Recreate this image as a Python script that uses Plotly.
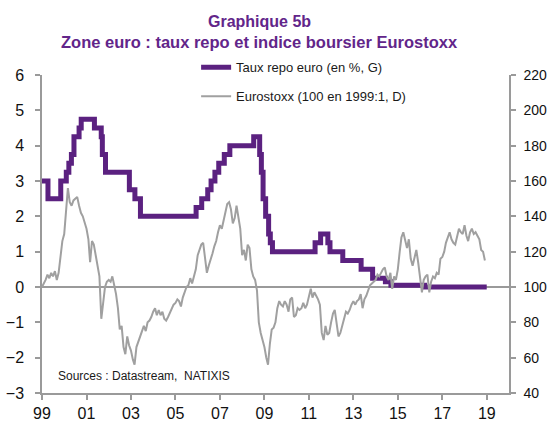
import plotly.graph_objects as go
import pandas as pd

# ---------------- data ----------------
repo_dates = ["1999-01-01", "1999-04-09", "1999-11-05", "2000-02-04", "2000-03-17", "2000-04-28",
              "2000-06-09", "2000-09-01", "2000-10-06", "2001-05-11", "2001-08-31", "2001-09-18",
              "2001-11-09", "2002-12-06", "2003-03-07", "2003-06-06", "2005-12-06", "2006-03-08",
              "2006-06-15", "2006-08-09", "2006-10-11", "2006-12-13", "2007-03-14", "2007-06-13",
              "2008-07-09", "2008-10-15", "2008-11-12", "2008-12-10", "2009-01-21", "2009-03-11",
              "2009-04-08", "2009-05-13", "2011-04-13", "2011-07-13", "2011-11-09", "2011-12-14",
              "2012-07-11", "2013-05-08", "2013-11-13", "2014-06-11", "2014-09-10", "2016-03-16",
              "2018-12-31"]
repo_rate = [3.00, 2.50, 3.00, 3.25, 3.50, 3.75,
             4.25, 4.50, 4.75, 4.50, 4.25, 3.75,
             3.25, 2.75, 2.50, 2.00, 2.25, 2.50,
             2.75, 3.00, 3.25, 3.50, 3.75, 4.00,
             4.25, 3.75, 3.25, 2.50, 2.00, 1.50,
             1.25, 1.00, 1.25, 1.50, 1.25, 1.00,
             0.75, 0.50, 0.25, 0.15, 0.05, 0.00,
             0.00]

# Eurostoxx, monthly, 100 = 1999:1
stoxx_1999 = [100, 102, 104, 107, 105, 108, 106, 109, 104, 108, 116, 126]
stoxx_2000 = [130, 146, 156, 148, 146, 149, 150, 151, 146, 142, 140, 136]
stoxx_2001 = [133, 127, 114, 126, 124, 118, 113, 106, 82, 92, 100, 103]
stoxx_2002 = [104, 103, 106, 101, 96, 88, 76, 78, 66, 62, 72, 67]
stoxx_2003 = [64, 59, 56, 66, 69, 73, 76, 78, 75, 80, 81, 83]
stoxx_2004 = [86, 88, 84, 87, 84, 86, 82, 81, 83, 85, 88, 90]
stoxx_2005 = [91, 93, 92, 89, 94, 97, 100, 101, 105, 102, 106, 110]
stoxx_2006 = [118, 121, 124, 125, 116, 108, 112, 115, 119, 123, 126, 131]
stoxx_2007 = [135, 133, 137, 143, 147, 148, 144, 136, 139, 146, 138, 133]
stoxx_2008 = [118, 121, 115, 124, 122, 110, 106, 104, 98, 80, 74, 70]
stoxx_2009 = [66, 60, 56, 68, 76, 77, 80, 88, 92, 90, 89, 92]
stoxx_2010 = [90, 86, 93, 94, 83, 84, 88, 87, 88, 91, 88, 90]
stoxx_2011 = [95, 99, 94, 97, 95, 93, 90, 74, 70, 78, 73, 74]
stoxx_2012 = [80, 85, 87, 80, 72, 74, 78, 82, 86, 85, 87, 90]
stoxx_2013 = [92, 90, 92, 93, 96, 88, 93, 95, 98, 101, 102, 103]
stoxx_2014 = [104, 107, 106, 108, 110, 111, 106, 104, 108, 99, 106, 104]
stoxx_2015 = [110, 120, 128, 131, 126, 122, 127, 116, 112, 117, 121, 114]
stoxx_2016 = [104, 97, 104, 106, 107, 97, 103, 106, 105, 108, 107, 116]
stoxx_2017 = [117, 120, 125, 128, 131, 127, 125, 124, 129, 133, 131, 130]
stoxx_2018 = [135, 129, 126, 131, 133, 130, 131, 129, 127, 121, 120, 115]

stoxx_values = (stoxx_1999 + stoxx_2000 + stoxx_2001 + stoxx_2002 + stoxx_2003 + stoxx_2004 +
                stoxx_2005 + stoxx_2006 + stoxx_2007 + stoxx_2008 + stoxx_2009 + stoxx_2010 +
                stoxx_2011 + stoxx_2012 + stoxx_2013 + stoxx_2014 + stoxx_2015 + stoxx_2016 +
                stoxx_2017 + stoxx_2018)
stoxx_dates = pd.date_range("1999-01-01", periods=len(stoxx_values), freq="MS")

tick_dates = ["1999-01-01", "2001-01-01", "2003-01-01", "2005-01-01", "2007-01-01",
              "2009-01-01", "2011-01-01", "2013-01-01", "2015-01-01", "2017-01-01", "2019-01-01"]
tick_labels = ["99", "01", "03", "05", "07", "09", "11", "13", "15", "17", "19"]
left_ticks = [-3, -2, -1, 0, 1, 2, 3, 4, 5, 6]
right_ticks = [40, 60, 80, 100, 120, 140, 160, 180, 200, 220]

# ---------------- style ----------------
PURPLE = "#5b2180"
TITLE_PURPLE = "#62258a"
GREY = "#a0a0a0"
AXIS = "#9a9a9a"
FONT = "Liberation Sans, Arial, sans-serif"

fig = go.Figure()
fig.add_trace(go.Scatter(x=repo_dates, y=repo_rate, mode="lines", line=dict(color=PURPLE, width=5, shape="hv"),
                         name="Taux repo euro (en %, G)", legendgroup="a", yaxis="y"))
fig.add_trace(go.Scatter(x=stoxx_dates, y=stoxx_values, mode="lines", line=dict(color=GREY, width=2),
                         name="Eurostoxx (100 en 1999:1, D)", legendgroup="b", yaxis="y2"))

fig.update_layout(
    width=557, height=421,
    margin=dict(l=42, r=48, t=75, b=28, autoexpand=False),
    paper_bgcolor="white", plot_bgcolor="white",
    font=dict(family=FONT, color="#1a1a1a"),
    showlegend=True,
    legend=dict(x=0.33, y=1.071, xanchor="left", yanchor="top", bgcolor="rgba(0,0,0,0)",
                font=dict(size=13, color="#1a1a1a"), tracegroupgap=9),
    xaxis=dict(type="date", range=["1999-01-01", "2020-01-01"], tickvals=tick_dates, ticktext=tick_labels,
               showline=True, linecolor=AXIS, linewidth=1.5, ticks="outside", ticklen=5, tickcolor=AXIS,
               tickwidth=1.5, showgrid=False, zeroline=False, automargin=False, ticklabelstandoff=0,
               tickfont=dict(size=16, color="#111")),
    yaxis=dict(range=[-3, 6], tickvals=left_ticks, showline=True, linecolor=AXIS, linewidth=1.5,
               ticks="outside", ticklen=5, tickcolor=AXIS, tickwidth=1.5, showgrid=False, automargin=False,
               ticklabelstandoff=8,
               zeroline=True, zerolinecolor=AXIS, zerolinewidth=1.5, tickfont=dict(size=16, color="#111")),
    yaxis2=dict(range=[40, 220], tickvals=right_ticks, overlaying="y", side="right", showline=True,
                linecolor=AXIS, linewidth=1.5, ticks="outside", ticklen=5, tickcolor=AXIS, tickwidth=1.5,
                showgrid=False, zeroline=False, automargin=False, ticklabelstandoff=5,
                tickfont=dict(size=14, color="#111")),
    annotations=[
        dict(text="<b>Graphique 5b</b>", xref="paper", yref="paper", x=0.466, y=1.168,
             xanchor="center", yanchor="middle", showarrow=False,
             font=dict(size=16, color=TITLE_PURPLE, family=FONT)),
        dict(text="<b>Zone euro : taux repo et indice boursier Eurostoxx</b>", xref="paper", yref="paper",
             x=0.466, y=1.105, xanchor="center", yanchor="middle", showarrow=False,
             font=dict(size=16.5, color=TITLE_PURPLE, family=FONT)),
        dict(text="Sources : Datastream,  NATIXIS", xref="paper", yref="paper",
             x=0.031, y=0.052, xanchor="left", yanchor="middle", showarrow=False,
             font=dict(size=12, color="#1a1a1a")),
    ],
)

fig.write_html("out.html", config={"displayModeBar": False},
               post_script="document.body.style.margin='0';")
